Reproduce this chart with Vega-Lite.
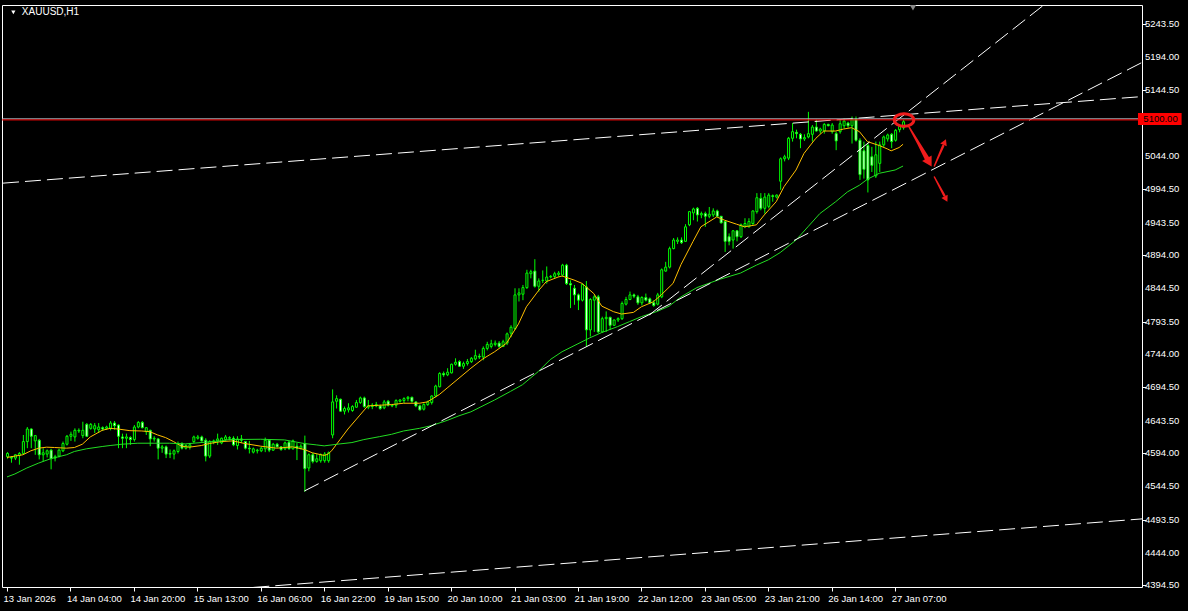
{
"$schema":"https://vega.github.io/schema/vega-lite/v6.json",
"width":1140,"height":582,
"autosize":{"type":"none"},
"padding":{"left":2,"top":5,"right":46,"bottom":24},
"background":"black",
"config":{"view":{"stroke":"white","strokeWidth":1,"fill":"black"},"text":{"font":"Liberation Sans"},
 "axis":{"labelOverlap":false,"labelFlush":false,"labelBound":false,"title":null,"grid":false,"domain":false}},
"datasets":{
"candles":[
{"i":0,"o":4589,"h":4596,"l":4586,"c":4594},{"i":1,"o":4588,"h":4590,"l":4580,"c":4587},{"i":2,"o":4587,"h":4593,"l":4584,"c":4592},{"i":3,"o":4591,"h":4596,"l":4577,"c":4594},{"i":4,"o":4594,"h":4622,"l":4592,"c":4612},{"i":5,"o":4612,"h":4634,"l":4602,"c":4631},{"i":6,"o":4631,"h":4632,"l":4602,"c":4620},{"i":7,"o":4613,"h":4622,"l":4592,"c":4621},{"i":8,"o":4614,"h":4616,"l":4585,"c":4592},{"i":9,"o":4592,"h":4602,"l":4582,"c":4595},
{"i":10,"o":4593,"h":4600,"l":4588,"c":4598},{"i":11,"o":4599,"h":4601,"l":4570,"c":4586},{"i":12,"o":4587,"h":4592,"l":4582,"c":4589},{"i":13,"o":4590,"h":4601,"l":4588,"c":4599},{"i":14,"o":4598,"h":4612,"l":4596,"c":4609},{"i":15,"o":4608,"h":4622,"l":4606,"c":4620},{"i":16,"o":4620,"h":4627,"l":4613,"c":4623},{"i":17,"o":4619,"h":4632,"l":4612,"c":4629},{"i":18,"o":4628,"h":4632,"l":4625,"c":4629},{"i":19,"o":4621,"h":4642,"l":4617,"c":4629},
{"i":20,"o":4638,"h":4640,"l":4619,"c":4620},{"i":21,"o":4632,"h":4640,"l":4630,"c":4638},{"i":22,"o":4631,"h":4640,"l":4625,"c":4636},{"i":23,"o":4630,"h":4640,"l":4625,"c":4634},{"i":24,"o":4633,"h":4635,"l":4628,"c":4631},{"i":25,"o":4632,"h":4636,"l":4630,"c":4634},{"i":26,"o":4632,"h":4643,"l":4629,"c":4640},{"i":27,"o":4640,"h":4643,"l":4630,"c":4636},{"i":28,"o":4637,"h":4638,"l":4602,"c":4620},{"i":29,"o":4619,"h":4624,"l":4602,"c":4617},
{"i":30,"o":4617,"h":4624,"l":4602,"c":4619},{"i":31,"o":4618,"h":4620,"l":4607,"c":4615},{"i":32,"o":4615,"h":4637,"l":4612,"c":4634},{"i":33,"o":4634,"h":4643,"l":4632,"c":4641},{"i":34,"o":4641,"h":4643,"l":4632,"c":4633},{"i":35,"o":4627,"h":4634,"l":4622,"c":4633},{"i":36,"o":4629,"h":4630,"l":4605,"c":4616},{"i":37,"o":4616,"h":4620,"l":4612,"c":4617},{"i":38,"o":4616,"h":4617,"l":4585,"c":4602},{"i":39,"o":4602,"h":4607,"l":4595,"c":4604},
{"i":40,"o":4604,"h":4606,"l":4587,"c":4593},{"i":41,"o":4593,"h":4600,"l":4587,"c":4594},{"i":42,"o":4593,"h":4600,"l":4585,"c":4598},{"i":43,"o":4597,"h":4612,"l":4594,"c":4609},{"i":44,"o":4609,"h":4611,"l":4600,"c":4602},{"i":45,"o":4602,"h":4608,"l":4600,"c":4606},{"i":46,"o":4604,"h":4610,"l":4600,"c":4607},{"i":47,"o":4612,"h":4621,"l":4610,"c":4619},{"i":48,"o":4617,"h":4622,"l":4615,"c":4619},{"i":49,"o":4619,"h":4621,"l":4612,"c":4613},
{"i":50,"o":4614,"h":4617,"l":4582,"c":4590},{"i":51,"o":4590,"h":4614,"l":4587,"c":4612},{"i":52,"o":4611,"h":4615,"l":4608,"c":4613},{"i":53,"o":4613,"h":4624,"l":4607,"c":4616},{"i":54,"o":4610,"h":4618,"l":4608,"c":4617},{"i":55,"o":4615,"h":4622,"l":4613,"c":4619},{"i":56,"o":4617,"h":4620,"l":4614,"c":4618},{"i":57,"o":4617,"h":4620,"l":4605,"c":4607},{"i":58,"o":4606,"h":4620,"l":4600,"c":4616},{"i":59,"o":4616,"h":4622,"l":4610,"c":4614},
{"i":60,"o":4612,"h":4613,"l":4600,"c":4602},{"i":61,"o":4602,"h":4613,"l":4594,"c":4601},{"i":62,"o":4596,"h":4603,"l":4594,"c":4601},{"i":63,"o":4598,"h":4601,"l":4594,"c":4599},{"i":64,"o":4598,"h":4604,"l":4596,"c":4602},{"i":65,"o":4601,"h":4618,"l":4596,"c":4614},{"i":66,"o":4614,"h":4615,"l":4596,"c":4599},{"i":67,"o":4599,"h":4610,"l":4598,"c":4608},{"i":68,"o":4608,"h":4610,"l":4603,"c":4604},{"i":69,"o":4604,"h":4605,"l":4598,"c":4600},
{"i":70,"o":4601,"h":4612,"l":4599,"c":4610},{"i":71,"o":4611,"h":4613,"l":4600,"c":4601},{"i":72,"o":4601,"h":4615,"l":4600,"c":4613},{"i":73,"o":4605,"h":4610,"l":4584,"c":4602},{"i":74,"o":4602,"h":4608,"l":4600,"c":4605},{"i":75,"o":4609,"h":4621,"l":4536,"c":4571},{"i":76,"o":4572,"h":4594,"l":4567,"c":4592},{"i":77,"o":4592,"h":4595,"l":4579,"c":4582},{"i":78,"o":4582,"h":4593,"l":4580,"c":4586},{"i":79,"o":4583,"h":4594,"l":4580,"c":4592},
{"i":80,"o":4583,"h":4596,"l":4580,"c":4593},{"i":81,"o":4583,"h":4597,"l":4580,"c":4595},{"i":82,"o":4622,"h":4691,"l":4617,"c":4672},{"i":83,"o":4673,"h":4682,"l":4662,"c":4677},{"i":84,"o":4676,"h":4677,"l":4657,"c":4658},{"i":85,"o":4658,"h":4665,"l":4653,"c":4662},{"i":86,"o":4660,"h":4670,"l":4656,"c":4663},{"i":87,"o":4659,"h":4667,"l":4657,"c":4665},{"i":88,"o":4664,"h":4675,"l":4663,"c":4671},{"i":89,"o":4671,"h":4680,"l":4669,"c":4678},
{"i":90,"o":4678,"h":4680,"l":4663,"c":4665},{"i":91,"o":4664,"h":4675,"l":4661,"c":4666},{"i":92,"o":4665,"h":4670,"l":4661,"c":4667},{"i":93,"o":4666,"h":4672,"l":4664,"c":4668},{"i":94,"o":4666,"h":4668,"l":4660,"c":4662},{"i":95,"o":4663,"h":4675,"l":4661,"c":4672},{"i":96,"o":4673,"h":4675,"l":4665,"c":4667},{"i":97,"o":4666,"h":4669,"l":4664,"c":4667},{"i":98,"o":4667,"h":4676,"l":4663,"c":4674},{"i":99,"o":4673,"h":4676,"l":4671,"c":4675},
{"i":100,"o":4674,"h":4679,"l":4670,"c":4677},{"i":101,"o":4677,"h":4681,"l":4673,"c":4679},{"i":102,"o":4679,"h":4680,"l":4671,"c":4673},{"i":103,"o":4672,"h":4673,"l":4664,"c":4666},{"i":104,"o":4666,"h":4668,"l":4659,"c":4660},{"i":105,"o":4661,"h":4670,"l":4659,"c":4668},{"i":106,"o":4668,"h":4674,"l":4666,"c":4672},{"i":107,"o":4671,"h":4682,"l":4668,"c":4681},{"i":108,"o":4681,"h":4698,"l":4679,"c":4696},{"i":109,"o":4695,"h":4717,"l":4694,"c":4715},
{"i":110,"o":4715,"h":4718,"l":4710,"c":4713},{"i":111,"o":4713,"h":4723,"l":4711,"c":4717},{"i":112,"o":4716,"h":4730,"l":4715,"c":4729},{"i":113,"o":4729,"h":4738,"l":4727,"c":4732},{"i":114,"o":4733,"h":4735,"l":4725,"c":4726},{"i":115,"o":4726,"h":4733,"l":4722,"c":4730},{"i":116,"o":4730,"h":4737,"l":4727,"c":4733},{"i":117,"o":4733,"h":4740,"l":4731,"c":4738},{"i":118,"o":4737,"h":4751,"l":4735,"c":4742},{"i":119,"o":4741,"h":4745,"l":4737,"c":4740},
{"i":120,"o":4740,"h":4756,"l":4735,"c":4753},{"i":121,"o":4753,"h":4763,"l":4750,"c":4759},{"i":122,"o":4756,"h":4766,"l":4753,"c":4760},{"i":123,"o":4759,"h":4765,"l":4756,"c":4761},{"i":124,"o":4761,"h":4764,"l":4754,"c":4756},{"i":125,"o":4756,"h":4766,"l":4755,"c":4763},{"i":126,"o":4761,"h":4777,"l":4758,"c":4775},{"i":127,"o":4776,"h":4788,"l":4770,"c":4785},{"i":128,"o":4783,"h":4844,"l":4781,"c":4834},{"i":129,"o":4834,"h":4844,"l":4824,"c":4837},
{"i":130,"o":4835,"h":4849,"l":4826,"c":4845},{"i":131,"o":4845,"h":4872,"l":4843,"c":4867},{"i":132,"o":4866,"h":4872,"l":4859,"c":4869},{"i":133,"o":4870,"h":4888,"l":4845,"c":4847},{"i":134,"o":4847,"h":4859,"l":4839,"c":4855},{"i":135,"o":4856,"h":4871,"l":4852,"c":4856},{"i":136,"o":4855,"h":4877,"l":4851,"c":4861},{"i":137,"o":4861,"h":4864,"l":4859,"c":4862},{"i":138,"o":4862,"h":4869,"l":4859,"c":4866},{"i":139,"o":4865,"h":4870,"l":4862,"c":4867},
{"i":140,"o":4864,"h":4881,"l":4862,"c":4879},{"i":141,"o":4879,"h":4881,"l":4849,"c":4851},{"i":142,"o":4851,"h":4856,"l":4814,"c":4849},{"i":143,"o":4844,"h":4849,"l":4819,"c":4834},{"i":144,"o":4834,"h":4836,"l":4811,"c":4826},{"i":145,"o":4826,"h":4851,"l":4824,"c":4850},{"i":146,"o":4846,"h":4855,"l":4756,"c":4781},{"i":147,"o":4781,"h":4829,"l":4771,"c":4827},{"i":148,"o":4826,"h":4834,"l":4778,"c":4831},{"i":149,"o":4831,"h":4834,"l":4776,"c":4778},
{"i":150,"o":4778,"h":4801,"l":4777,"c":4798},{"i":151,"o":4798,"h":4809,"l":4778,"c":4800},{"i":152,"o":4800,"h":4801,"l":4781,"c":4788},{"i":153,"o":4788,"h":4797,"l":4787,"c":4796},{"i":154,"o":4796,"h":4800,"l":4793,"c":4798},{"i":155,"o":4798,"h":4824,"l":4796,"c":4821},{"i":156,"o":4820,"h":4831,"l":4818,"c":4827},{"i":157,"o":4827,"h":4839,"l":4826,"c":4834},{"i":158,"o":4834,"h":4836,"l":4829,"c":4832},{"i":159,"o":4831,"h":4834,"l":4819,"c":4822},
{"i":160,"o":4822,"h":4832,"l":4818,"c":4830},{"i":161,"o":4830,"h":4836,"l":4824,"c":4826},{"i":162,"o":4828,"h":4830,"l":4820,"c":4822},{"i":163,"o":4822,"h":4826,"l":4816,"c":4818},{"i":164,"o":4820,"h":4837,"l":4818,"c":4834},{"i":165,"o":4831,"h":4874,"l":4829,"c":4872},{"i":166,"o":4870,"h":4884,"l":4869,"c":4876},{"i":167,"o":4876,"h":4907,"l":4874,"c":4904},{"i":168,"o":4904,"h":4920,"l":4903,"c":4917},{"i":169,"o":4915,"h":4921,"l":4911,"c":4917},
{"i":170,"o":4917,"h":4921,"l":4911,"c":4913},{"i":171,"o":4915,"h":4941,"l":4914,"c":4937},{"i":172,"o":4940,"h":4961,"l":4938,"c":4960},{"i":173,"o":4958,"h":4966,"l":4947,"c":4964},{"i":174,"o":4965,"h":4967,"l":4945,"c":4955},{"i":175,"o":4955,"h":4960,"l":4950,"c":4957},{"i":176,"o":4957,"h":4960,"l":4937,"c":4953},{"i":177,"o":4953,"h":4967,"l":4950,"c":4956},{"i":178,"o":4955,"h":4965,"l":4952,"c":4961},{"i":179,"o":4961,"h":4963,"l":4953,"c":4953},
{"i":180,"o":4953,"h":4953,"l":4942,"c":4943},{"i":181,"o":4945,"h":4946,"l":4899,"c":4915},{"i":182,"o":4922,"h":4927,"l":4909,"c":4915},{"i":183,"o":4917,"h":4932,"l":4904,"c":4931},{"i":184,"o":4931,"h":4932,"l":4915,"c":4922},{"i":185,"o":4922,"h":4942,"l":4920,"c":4940},{"i":186,"o":4938,"h":4950,"l":4935,"c":4942},{"i":187,"o":4937,"h":4950,"l":4936,"c":4945},{"i":188,"o":4942,"h":4962,"l":4940,"c":4961},{"i":189,"o":4960,"h":4988,"l":4957,"c":4981},
{"i":190,"o":4980,"h":4988,"l":4962,"c":4965},{"i":191,"o":4965,"h":4988,"l":4957,"c":4982},{"i":192,"o":4968,"h":4988,"l":4965,"c":4985},{"i":193,"o":4984,"h":4986,"l":4975,"c":4983},{"i":194,"o":4982,"h":4986,"l":4980,"c":4985},{"i":195,"o":5006,"h":5042,"l":4993,"c":5040},{"i":196,"o":5040,"h":5046,"l":5036,"c":5043},{"i":197,"o":5041,"h":5073,"l":5038,"c":5071},{"i":198,"o":5071,"h":5094,"l":5066,"c":5081},{"i":199,"o":5080,"h":5084,"l":5071,"c":5078},
{"i":200,"o":5077,"h":5079,"l":5056,"c":5070},{"i":201,"o":5070,"h":5077,"l":5067,"c":5072},{"i":202,"o":5073,"h":5111,"l":5071,"c":5078},{"i":203,"o":5077,"h":5091,"l":5066,"c":5088},{"i":204,"o":5088,"h":5099,"l":5081,"c":5082},{"i":205,"o":5082,"h":5087,"l":5078,"c":5085},{"i":206,"o":5082,"h":5094,"l":5078,"c":5092},{"i":207,"o":5092,"h":5093,"l":5089,"c":5090},{"i":208,"o":5081,"h":5094,"l":5078,"c":5091},{"i":209,"o":5078,"h":5081,"l":5053,"c":5067},
{"i":210,"o":5081,"h":5099,"l":5078,"c":5093},{"i":211,"o":5090,"h":5101,"l":5086,"c":5097},{"i":212,"o":5094,"h":5096,"l":5087,"c":5090},{"i":213,"o":5090,"h":5104,"l":5063,"c":5100},{"i":214,"o":5100,"h":5104,"l":5066,"c":5068},{"i":215,"o":5068,"h":5071,"l":5008,"c":5016},{"i":216,"o":5052,"h":5066,"l":5010,"c":5024},{"i":217,"o":5060,"h":5064,"l":4989,"c":5008},{"i":218,"o":5043,"h":5058,"l":5020,"c":5030},{"i":219,"o":5014,"h":5066,"l":5011,"c":5046},
{"i":220,"o":5033,"h":5066,"l":5020,"c":5061},{"i":221,"o":5061,"h":5075,"l":5058,"c":5073},{"i":222,"o":5070,"h":5078,"l":5066,"c":5076},{"i":223,"o":5077,"h":5079,"l":5056,"c":5066},{"i":224,"o":5068,"h":5085,"l":5066,"c":5083},{"i":225,"o":5084,"h":5091,"l":5080,"c":5089},{"i":226,"o":5087,"h":5099,"l":5084,"c":5096}
],
"fast":[
{"i":0,"p":4588},{"i":4,"p":4592},{"i":6,"p":4598},{"i":8,"p":4602},{"i":10,"p":4603.5},{"i":12,"p":4603},{"i":15,"p":4602},{"i":17,"p":4603},{"i":19,"p":4608},{"i":21,"p":4619},{"i":24,"p":4629},{"i":26,"p":4632},{"i":28,"p":4631},{"i":31,"p":4628.5},{"i":34,"p":4628},{"i":36,"p":4627},{"i":38,"p":4622},{"i":40,"p":4618},{"i":42,"p":4612},{"i":44,"p":4605},{"i":46,"p":4603.5},{"i":49,"p":4606},{"i":51,"p":4609},{"i":54,"p":4612},{"i":57,"p":4613},{"i":60,"p":4609},{"i":64,"p":4605},{"i":68,"p":4602},{"i":72,"p":4604},{"i":75,"p":4600},{"i":77,"p":4595},{"i":80,"p":4591},{"i":81,"p":4593},{"i":82,"p":4599},{"i":84,"p":4615},{"i":86,"p":4631},{"i":89,"p":4652},{"i":91,"p":4666},{"i":94,"p":4667},{"i":97,"p":4668},{"i":100,"p":4670},{"i":104,"p":4670},{"i":106,"p":4672},{"i":109,"p":4683},{"i":111,"p":4693},{"i":114,"p":4708},{"i":117,"p":4723},{"i":120,"p":4737},{"i":123,"p":4748},{"i":126,"p":4761},{"i":129,"p":4790},{"i":131,"p":4816},{"i":134,"p":4840},{"i":136,"p":4854},{"i":139,"p":4861},{"i":140,"p":4862.5},{"i":143,"p":4856.5},{"i":145,"p":4851.5},{"i":148,"p":4836},{"i":150,"p":4817},{"i":153,"p":4808.5},{"i":155,"p":4805},{"i":158,"p":4807.5},{"i":160,"p":4816},{"i":163,"p":4823.5},{"i":165,"p":4834},{"i":168,"p":4851.5},{"i":170,"p":4880},{"i":173,"p":4914.6},{"i":175,"p":4937},{"i":179,"p":4952},{"i":181,"p":4947},{"i":184,"p":4941},{"i":186,"p":4937},{"i":189,"p":4940},{"i":191,"p":4955},{"i":194,"p":4975},{"i":196,"p":4998},{"i":199,"p":5023},{"i":201,"p":5048},{"i":204,"p":5071},{"i":206,"p":5082},{"i":209,"p":5082},{"i":211,"p":5085},{"i":213,"p":5087},{"i":215,"p":5081},{"i":217,"p":5066},{"i":220,"p":5060},{"i":222,"p":5055},{"i":223,"p":5052},{"i":225,"p":5057},{"i":226,"p":5062}
],
"slow":[
{"i":0,"p":4558.5},{"i":2,"p":4563},{"i":5,"p":4572},{"i":8,"p":4579.5},{"i":11,"p":4586},{"i":15,"p":4592},{"i":17,"p":4597},{"i":20,"p":4601},{"i":24,"p":4604.5},{"i":26,"p":4606},{"i":29,"p":4608},{"i":33,"p":4609.5},{"i":41,"p":4609.5},{"i":45,"p":4608.5},{"i":50,"p":4611},{"i":54,"p":4613},{"i":56,"p":4615},{"i":64,"p":4615.5},{"i":70,"p":4614.5},{"i":75,"p":4609},{"i":78,"p":4607},{"i":80,"p":4605.5},{"i":84,"p":4608.5},{"i":87,"p":4610.5},{"i":90,"p":4615},{"i":94,"p":4619.5},{"i":97,"p":4623},{"i":100,"p":4628},{"i":104,"p":4632},{"i":107,"p":4636},{"i":111,"p":4644},{"i":114,"p":4651},{"i":117,"p":4657},{"i":123,"p":4675},{"i":127,"p":4688},{"i":130,"p":4698},{"i":134,"p":4718},{"i":137,"p":4736},{"i":140,"p":4748},{"i":144,"p":4760},{"i":147,"p":4769},{"i":150,"p":4777},{"i":154,"p":4786},{"i":157,"p":4793.5},{"i":160,"p":4801},{"i":164,"p":4809},{"i":167,"p":4817},{"i":170,"p":4831},{"i":172,"p":4838},{"i":174,"p":4845},{"i":180,"p":4858},{"i":185,"p":4867},{"i":189,"p":4879},{"i":192,"p":4887},{"i":195,"p":4898},{"i":199,"p":4917},{"i":202,"p":4937},{"i":205,"p":4957},{"i":209,"p":4975},{"i":212,"p":4990},{"i":215,"p":5000},{"i":217,"p":5009},{"i":220,"p":5018},{"i":224,"p":5023},{"i":226,"p":5029}
],
"trend":[
{"id":"upper","i":-1,"p":5003.1},{"id":"upper","i":290,"p":5135.8},
{"id":"lower","i":40,"p":4381},{"id":"lower","i":290,"p":4496.7},
{"id":"support","i":75,"p":4537.2},{"id":"support","i":290,"p":5197.2},
{"id":"steep","i":162,"p":4803.6},{"id":"steep","i":265,"p":5289.2}
],
"greyLevel":[{"p":5100.4}],
"redLevel":[{"p":5098.8}],
"yticks":[{"v":5243.5},{"v":5194},{"v":5144.5},{"v":5044},{"v":4994.5},{"v":4943.5},{"v":4894},{"v":4844.5},{"v":4793.5},{"v":4744},{"v":4694.5},{"v":4643.5},{"v":4594},{"v":4544.5},{"v":4493.5},{"v":4444},{"v":4394.5}],
"shafts":[
{"id":"a1","i":227.5,"p":5088.1,"s":1.5},{"id":"a1","i":230,"p":5062.4,"s":3},{"id":"a1","i":232.25,"p":5038.2,"s":5},
{"id":"a2","i":233.9,"p":5029.1,"s":1.5},{"id":"a2","i":236.1,"p":5059.3,"s":2.5},
{"id":"a3","i":233.9,"p":5012.4,"s":1.5},{"id":"a3","i":236.4,"p":4984.4,"s":2.5}
],
"heads":[{"i":232.4,"p":5036.6,"a":150,"sz":120},{"i":236.4,"p":5063.9,"a":24,"sz":50},{"i":236.7,"p":4980.3,"a":152,"sz":50}],
"ring":[{"i":226.25,"p":5098.7}],
"tag":[{"i1":285.25,"i2":296.25,"p1":5091.1,"p2":5109.3,"ti":286.6,"tp":5100.2,"t":"5100.00"}],
"title":[{"i":3.75,"p":5261.4,"t":"XAUUSD,H1"}],
"menu":[{"i":1.6,"p":5261.6}],
"shift":[{"i":228.5,"p":5268.5}]
},
"layer":[
{"data":{"name":"candles"},"mark":{"type":"rule","color":"#00ff00","strokeWidth":1,"xOffset":0.5,"clip":true},
 "encoding":{
  "x":{"field":"i","type":"quantitative","scale":{"domain":[0,285],"nice":false,"zero":false},
   "axis":{"values":[0,16,32,48,64,80,96,112,128,144,160,176,192,208,224],
    "labelExpr":"['13 Jan 2026','14 Jan 04:00','14 Jan 20:00','15 Jan 13:00','16 Jan 06:00','16 Jan 22:00','19 Jan 15:00','20 Jan 10:00','21 Jan 03:00','21 Jan 19:00','22 Jan 12:00','23 Jan 05:00','23 Jan 21:00','26 Jan 14:00','27 Jan 07:00'][round(datum.value/16)]",
    "orient":"bottom","domain":false,"grid":false,"ticks":true,"tickColor":"white","tickSize":4,
    "labelColor":"white","labelFont":"Liberation Sans","labelFontSize":9.5,"labelAlign":"left","labelOffset":-4,"labelPadding":2,"labelOverlap":false,"labelFlush":false,"labelBound":false,"title":null}},
  "y":{"field":"l","type":"quantitative","scale":{"domain":[4391.9,5272.7],"nice":false,"zero":false},
   "axis":{"values":[5243.5,5194,5144.5,5044,4994.5,4943.5,4894,4844.5,4793.5,4744,4694.5,4643.5,4594,4544.5,4493.5,4444,4394.5],
    "orient":"right","domain":false,"grid":false,"ticks":true,"tickColor":"white","tickSize":4,"labels":false,"title":null}},
  "y2":{"field":"h"}}},
{"data":{"name":"candles"},"mark":{"type":"bar","width":2,"stroke":"#00ff00","strokeWidth":1,"xOffset":0.5,"clip":true},
 "encoding":{
  "x":{"field":"i","type":"quantitative","axis":{"title":null}},
  "y":{"field":"o","type":"quantitative","axis":{"title":null}},
  "y2":{"field":"c"},
  "fill":{"condition":{"test":"datum.c >= datum.o","value":"black"},"value":"white"}}},
{"data":{"name":"fast"},"mark":{"type":"line","stroke":"#ffbf00","strokeWidth":1,"clip":true},
 "encoding":{
  "x":{"field":"i","type":"quantitative","axis":{"title":null}},
  "y":{"field":"p","type":"quantitative","axis":{"title":null}}}},
{"data":{"name":"slow"},"mark":{"type":"line","stroke":"#22dd22","strokeWidth":1,"clip":true},
 "encoding":{
  "x":{"field":"i","type":"quantitative","axis":{"title":null}},
  "y":{"field":"p","type":"quantitative","axis":{"title":null}}}},
{"data":{"name":"trend"},"mark":{"type":"line","stroke":"white","strokeWidth":1,"strokeDash":[16,6],"clip":true},
 "encoding":{
  "x":{"field":"i","type":"quantitative","axis":{"title":null}},
  "y":{"field":"p","type":"quantitative","axis":{"title":null}},
  "detail":{"field":"id","type":"nominal"}}},
{"data":{"name":"greyLevel"},"mark":{"type":"rule","stroke":"#b8c0cc","strokeWidth":1,"clip":true},
 "encoding":{"y":{"field":"p","type":"quantitative","axis":{"title":null}}}},
{"data":{"name":"redLevel"},"mark":{"type":"rule","stroke":"#ff0000","strokeWidth":1,"clip":true},
 "encoding":{"y":{"field":"p","type":"quantitative","axis":{"title":null}}}},
{"data":{"name":"shafts"},"mark":{"type":"trail","color":"#f01c1c","clip":true},
 "encoding":{
  "x":{"field":"i","type":"quantitative","axis":{"title":null}},
  "y":{"field":"p","type":"quantitative","axis":{"title":null}},
  "size":{"field":"s","type":"quantitative","scale":null,"legend":null},
  "detail":{"field":"id","type":"nominal"}}},
{"data":{"name":"heads"},"mark":{"type":"point","shape":"triangle","filled":true,"color":"#f01c1c","opacity":1,"clip":true},
 "encoding":{
  "x":{"field":"i","type":"quantitative","axis":{"title":null}},
  "y":{"field":"p","type":"quantitative","axis":{"title":null}},
  "size":{"field":"sz","type":"quantitative","scale":null,"legend":null},
  "angle":{"field":"a","type":"quantitative","scale":null}}},
{"data":{"name":"ring"},"mark":{"type":"point","shape":"M -1 0 A 1 0.65 0 1 0 1 0 A 1 0.65 0 1 0 -1 0 Z","filled":false,"stroke":"#f01c1c","strokeWidth":3,"size":380,"opacity":1,"clip":true},
 "encoding":{
  "x":{"field":"i","type":"quantitative","axis":{"title":null}},
  "y":{"field":"p","type":"quantitative","axis":{"title":null}}}},
{"data":{"name":"yticks"},"mark":{"type":"text","color":"white","font":"Liberation Sans","fontSize":9.5,"align":"left","baseline":"middle","dx":8,"clip":false},
 "encoding":{
  "x":{"datum":285,"type":"quantitative","axis":{"title":null}},
  "y":{"field":"v","type":"quantitative","axis":{"title":null}},
  "text":{"field":"v","type":"quantitative","format":".2f"}}},
{"data":{"name":"tag"},"mark":{"type":"rect","fill":"#ff0000","clip":false},
 "encoding":{
  "x":{"field":"i1","type":"quantitative","axis":{"title":null}},
  "x2":{"field":"i2"},
  "y":{"field":"p1","type":"quantitative","axis":{"title":null}},
  "y2":{"field":"p2"}}},
{"data":{"name":"tag"},"mark":{"type":"text","color":"black","font":"Liberation Sans","fontSize":9.5,"align":"left","baseline":"middle","clip":false},
 "encoding":{
  "x":{"field":"ti","type":"quantitative","axis":{"title":null}},
  "y":{"field":"tp","type":"quantitative","axis":{"title":null}},
  "text":{"field":"t"}}},
{"data":{"name":"title"},"mark":{"type":"text","color":"white","font":"Liberation Sans","fontSize":10,"align":"left","baseline":"middle","clip":false},
 "encoding":{
  "x":{"field":"i","type":"quantitative","axis":{"title":null}},
  "y":{"field":"p","type":"quantitative","axis":{"title":null}},
  "text":{"field":"t"}}},
{"data":{"name":"menu"},"mark":{"type":"point","shape":"triangle-down","filled":true,"color":"white","size":18,"opacity":1,"clip":false},
 "encoding":{
  "x":{"field":"i","type":"quantitative","axis":{"title":null}},
  "y":{"field":"p","type":"quantitative","axis":{"title":null}}}},
{"data":{"name":"shift"},"mark":{"type":"point","shape":"triangle-down","filled":true,"color":"#8a8a8a","size":40,"opacity":1,"clip":false},
 "encoding":{
  "x":{"field":"i","type":"quantitative","axis":{"title":null}},
  "y":{"field":"p","type":"quantitative","axis":{"title":null}}}}
]
}
